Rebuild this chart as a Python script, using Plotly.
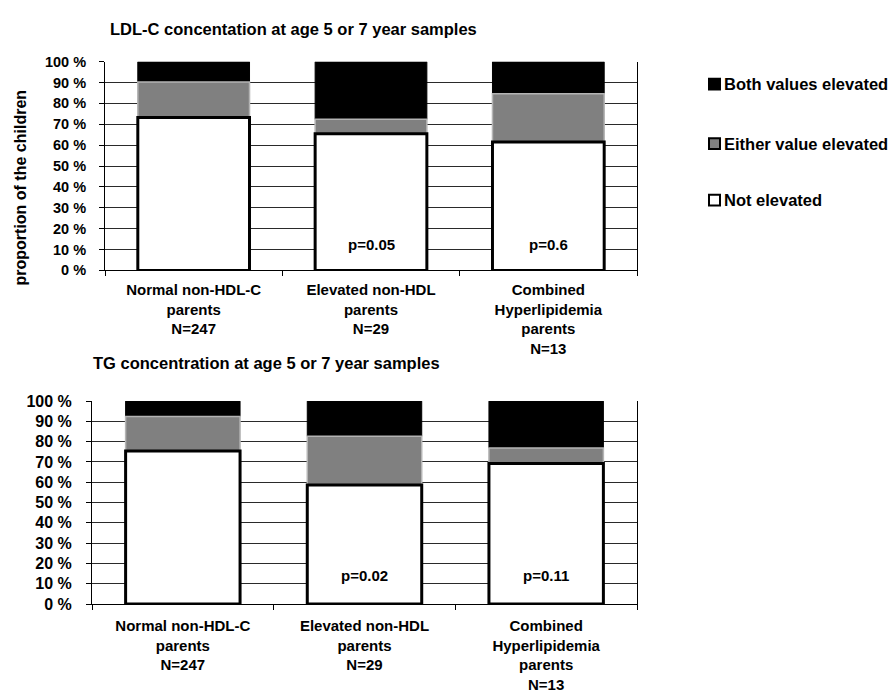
import plotly.graph_objects as go

# Parent groups (x categories) and shares of children (%) per outcome
groups = ["Normal non-HDL-C<br>parents<br>N=247",
          "Elevated non-HDL<br>parents<br>N=29",
          "Combined<br>Hyperlipidemia<br>parents<br>N=13"]

ldl_not = [73.3, 65.5, 61.5]
ldl_either = [17.0, 6.9, 23.1]
ldl_both = [9.7, 27.6, 15.4]
ldl_p = ["", "p=0.05", "p=0.6"]
ldl_p_y = [12.6, 12.6, 12.6]

tg_not = [75.4, 58.6, 69.2]
tg_either = [17.0, 24.1, 7.7]
tg_both = [7.6, 17.3, 23.1]
tg_p = ["", "p=0.02", "p=0.11"]
tg_p_y = [14.0, 14.0, 14.0]

series_names = ["Both values elevated", "Either value elevated", "Not elevated"]
y_ticks = list(range(0, 101, 10))
y_ticktext = [f"{v} %" for v in y_ticks]

FONT = "Liberation Sans, Arial, sans-serif"
W, H = 889, 693

fig = go.Figure()


def add_panel(not_el, either, both, xa, ya):
    base_either = not_el
    base_both = [a + b for a, b in zip(not_el, either)]
    # top segment first so the white bar's thick outline stays on top
    fig.add_trace(go.Bar(x=groups, y=both, base=base_both, width=0.63,
                         marker=dict(color="#000000", line=dict(color="#000000", width=1)),
                         name=series_names[0], showlegend=False, xaxis=xa, yaxis=ya,
                         hoverinfo="skip"))
    fig.add_trace(go.Bar(x=groups, y=either, base=base_either, width=0.63,
                         marker=dict(color="#808080", line=dict(color="#b4b4b4", width=1.5)),
                         name=series_names[1], showlegend=False, xaxis=xa, yaxis=ya,
                         hoverinfo="skip"))
    fig.add_trace(go.Bar(x=groups, y=not_el, base=[0, 0, 0], width=0.63,
                         marker=dict(color="#ffffff", line=dict(color="#000000", width=3)),
                         name=series_names[2], showlegend=False, xaxis=xa, yaxis=ya,
                         hoverinfo="skip"))


add_panel(ldl_not, ldl_either, ldl_both, "x", "y")
add_panel(tg_not, tg_either, tg_both, "x2", "y2")


def xaxis_cfg(domain, anchor, size, standoff):
    return dict(domain=domain, anchor=anchor, type="category", tickson="boundaries",
                ticks="outside", ticklen=5, tickcolor="#000", showline=True,
                linecolor="#000", linewidth=1, showgrid=False, zeroline=False,
                ticklabelstandoff=standoff,
                tickfont=dict(family=FONT, size=size, color="#000", weight="bold"),
                fixedrange=True)


def yaxis_cfg(domain, anchor, size, standoff):
    return dict(domain=domain, anchor=anchor, range=[0, 100], tickvals=y_ticks,
                ticktext=y_ticktext, ticks="outside", ticklen=5, tickcolor="#000",
                showline=True, linecolor="#000", linewidth=1, mirror=True,
                showgrid=True, gridcolor="#2a2a2a", gridwidth=1, zeroline=False,
                ticklabelstandoff=standoff,
                tickfont=dict(family=FONT, size=size, color="#000", weight="bold"),
                fixedrange=True)


top_x = [105 / W, 637 / W]
top_y = [(H - 269) / H, (H - 55) / H]
bot_x = [92 / W, 637 / W]
bot_y = [(H - 611) / H, (H - 403) / H]

annotations = []
for g, t, yv in zip(groups, ldl_p, ldl_p_y):
    if t:
        annotations.append(dict(x=g, y=yv, xref="x", yref="y", text=t, showarrow=False,
                                font=dict(family=FONT, size=15, color="#000", weight="bold")))
for g, t, yv in zip(groups, tg_p, tg_p_y):
    if t:
        annotations.append(dict(x=g, y=yv, xref="x2", yref="y2", text=t, showarrow=False,
                                font=dict(family=FONT, size=15, color="#000", weight="bold")))

annotations += [
    dict(x=108 / W, y=(H - 22) / H, xref="paper", yref="paper", xanchor="left",
         yanchor="middle", showarrow=False,
         text="LDL-C concentation at age 5 or 7 year samples",
         font=dict(family=FONT, size=16.5, color="#000", weight="bold")),
    dict(x=91 / W, y=(H - 364) / H, xref="paper", yref="paper", xanchor="left",
         yanchor="middle", showarrow=False,
         text="TG concentration at age 5 or 7 year samples",
         font=dict(family=FONT, size=16.5, color="#000", weight="bold")),
    dict(x=20 / W, y=(H - 184) / H, xref="paper", yref="paper", xanchor="center",
         yanchor="middle", showarrow=False, textangle=-90,
         text="proportion of the children",
         font=dict(family=FONT, size=16, color="#000", weight="bold")),
]

# Legend: swatch + label per outcome
legend_fill = ["#000000", "#808080", "#ffffff"]
legend_y = [78, 139, 197]
shapes = []
for name, fill, ly in zip(series_names, legend_fill, legend_y):
    shapes.append(dict(type="rect", xref="paper", yref="paper",
                       x0=709 / W, x1=720 / W, y0=(H - ly - 5.5) / H, y1=(H - ly + 5.5) / H,
                       fillcolor=fill, line=dict(color="#000", width=2)))
    annotations.append(dict(x=722 / W, y=(H - ly) / H, xref="paper", yref="paper",
                            xanchor="left", yanchor="middle", showarrow=False, text=name,
                            font=dict(family=FONT, size=16.5, color="#000", weight="bold")))

fig.update_layout(
    width=W, height=H, margin=dict(l=0, r=0, t=0, b=0),
    paper_bgcolor="#ffffff", plot_bgcolor="#ffffff",
    barmode="overlay", showlegend=False,
    xaxis=xaxis_cfg(top_x, "y", 15, 6),
    yaxis=yaxis_cfg(top_y, "x", 14.5, 10),
    xaxis2=xaxis_cfg(bot_x, "y2", 15, 8),
    yaxis2=yaxis_cfg(bot_y, "x2", 16, 11),
    annotations=annotations, shapes=shapes,
)

fig.write_html("out.html")
